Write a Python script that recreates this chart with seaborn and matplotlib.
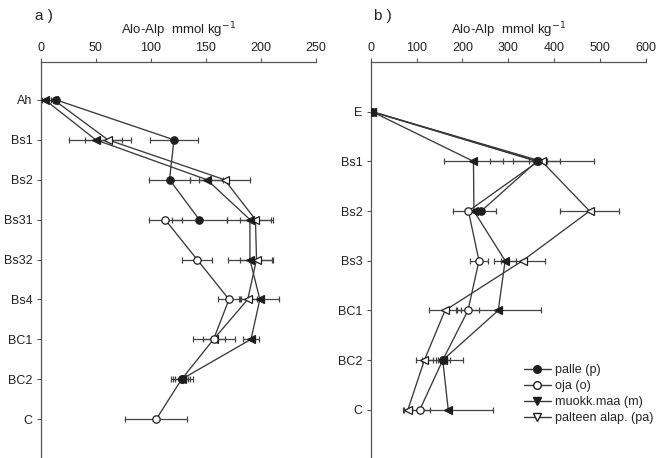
import numpy as np
import pandas as pd
import matplotlib
matplotlib.use("Agg")
import matplotlib.pyplot as plt
from matplotlib.lines import Line2D
import seaborn as sns

# Horizons for the two profiles
horizons_a = ["Ah", "Bs1", "Bs2", "Bs31", "Bs32", "Bs4", "BC1", "BC2", "C"]
horizons_b = ["E", "Bs1", "Bs2", "Bs3", "BC1", "BC2", "C"]

nan = np.nan

# Profile a) Alo-Alp, mmol/kg (mean and error)
palle_a = [14, 121, 117, 144, nan, nan, nan, 128, nan]
palle_a_err = [3, 22, 19, 25, nan, nan, nan, 10, nan]
oja_a = [nan, nan, nan, 113, 142, 171, 157, 128, 105]
oja_a_err = [nan, nan, nan, 15, 14, 10, 19, 8, 28]
muokk_a = [4, 50, 151, 190, 190, 199, 191, 128, nan]
muokk_a_err = [3, 24, 15, 21, 20, 17, 7, 6, nan]
palteen_a = [12, 61, 167, 195, 196, 188, 157, nan, nan]
palteen_a_err = [3, 21, 23, 14, 15, 8, 10, nan, nan]

# Profile b) Alo-Alp, mmol/kg (mean and error)
palle_b = [3, 362, 241, nan, nan, 157, nan]
palle_b_err = [2, 51, 32, nan, nan, 45, nan]
oja_b = [3, 365, 213, 236, 212, 157, 107]
oja_b_err = [2, 20, 34, 19, 25, 15, 22]
muokk_b = [3, 224, 225, 293, 278, 157, 169]
muokk_b_err = [2, 64, 10, 24, 93, 10, 97]
palteen_b = [3, 373, 477, 331, 162, 117, 81]
palteen_b_err = [2, 113, 65, 48, 34, 18, 10]

series_names = ["palle (p)", "oja (o)", "muokk.maa (m)", "palteen alap. (pa)"]

sns.set_theme(style="ticks")
plt.rcParams["font.family"] = ["Liberation Sans", "DejaVu Sans"]

LINE = "#3a3a3a"
MARK = "#1e1e1e"

styles = {
    "palle (p)": dict(marker="o", mfc=MARK, ms=5.3, z=6),
    "oja (o)": dict(marker="o", mfc="white", ms=5.3, z=5),
    "muokk.maa (m)": dict(marker="<", mfc=MARK, ms=5.3, z=4),
    "palteen alap. (pa)": dict(marker="<", mfc="white", ms=5.3, z=3),
}

fig = plt.figure(figsize=(6.58, 4.58), dpi=100)
ax_a = fig.add_axes([40.7 / 658, 1 - 457 / 458, 275.3 / 658, 395 / 458])
ax_b = fig.add_axes([370.7 / 658, 1 - 457 / 458, 275.3 / 658, 395 / 458])


def draw_profile(ax, horizons, data, xmax, xstep, ylim):
    for name, (vals, errs) in zip(series_names, data):
        st = styles[name]
        depth = np.arange(len(horizons), dtype=float)
        df = pd.DataFrame({"value": vals, "depth": depth})
        # draw line pieces between consecutive measured horizons
        valid = df["value"].notna().to_numpy()
        df["seg"] = np.cumsum(~valid)
        for _, seg in df[valid].groupby("seg"):
            sns.lineplot(data=seg, x="value", y="depth", orient="y", sort=False,
                         estimator=None, ax=ax, color=LINE, lw=0.95,
                         marker=st["marker"], markersize=st["ms"],
                         markerfacecolor=st["mfc"], markeredgecolor=MARK,
                         markeredgewidth=0.9, zorder=st["z"], legend=False)
        ax.errorbar(vals, depth, xerr=errs, fmt="none", ecolor="#444444",
                    elinewidth=0.9, capsize=2.5, capthick=0.9, zorder=2)
    ax.set_xlim(0, xmax)
    ax.set_xticks(np.arange(0, xmax + 1, xstep))
    ax.set_ylim(*ylim)
    ax.set_yticks(np.arange(len(horizons)))
    ax.set_yticklabels(horizons)
    ax.xaxis.tick_top()
    ax.xaxis.set_label_position("top")
    ax.set_xlabel("Alo-Alp  mmol kg$^{-1}$", fontsize=9.5, labelpad=5, color="#222222")
    ax.set_ylabel("")
    for side in ("right", "bottom"):
        ax.spines[side].set_visible(False)
    for side in ("left", "top"):
        ax.spines[side].set_color("#555555")
        ax.spines[side].set_linewidth(0.9)
    ax.tick_params(axis="both", labelsize=9, colors="#555555", labelcolor="#222222",
                   length=3, width=0.8, direction="out", pad=3)
    ax.set_facecolor("none")


draw_profile(ax_a, horizons_a,
             [(palle_a, palle_a_err), (oja_a, oja_a_err),
              (muokk_a, muokk_a_err), (palteen_a, palteen_a_err)],
             250, 50, (8.95, -0.95))
draw_profile(ax_b, horizons_b,
             [(palle_b, palle_b_err), (oja_b, oja_b_err),
              (muokk_b, muokk_b_err), (palteen_b, palteen_b_err)],
             600, 100, (6.95, -1.0))

fig.text(35 / 658, 1 - 16 / 458, "a )", fontsize=11, va="center", ha="left", color="#222222")
fig.text(374 / 658, 1 - 16 / 458, "b )", fontsize=11, va="center", ha="left", color="#222222")

handles = [
    Line2D([], [], color=LINE, lw=1.0, marker="o", ms=5.5, mfc=MARK, mec=MARK),
    Line2D([], [], color=LINE, lw=1.0, marker="o", ms=5.5, mfc="white", mec=MARK),
    Line2D([], [], color=LINE, lw=1.0, marker="v", ms=5.5, mfc=MARK, mec=MARK),
    Line2D([], [], color=LINE, lw=1.0, marker="v", ms=5.5, mfc="white", mec=MARK),
]
fig.legend(handles, series_names, loc="upper left",
           bbox_to_anchor=(524 / 658, 1 - 364 / 458), frameon=False,
           fontsize=9.1, handlelength=2.1, handletextpad=0.35,
           labelspacing=0.32, borderpad=0, borderaxespad=0)

fig.savefig("out.png", dpi=100, facecolor="white")
